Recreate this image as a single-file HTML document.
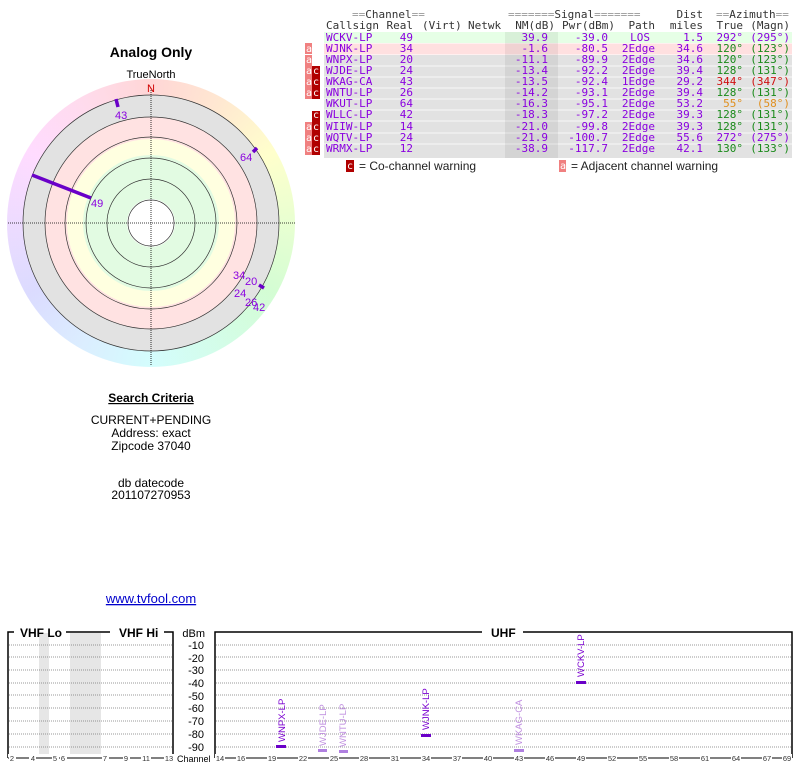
<!DOCTYPE html>
<html><head><meta charset="utf-8"><style>
body{margin:0;background:#fff;width:800px;height:768px;overflow:hidden;position:relative}
#ring{position:absolute;left:7px;top:79px;width:288px;height:288px;border-radius:50%;
background:conic-gradient(hsl(0,100%,92%),hsl(30,100%,91%),hsl(60,100%,90%),hsl(90,100%,91%),hsl(120,90%,91%),hsl(150,90%,91%),hsl(180,90%,91%),hsl(210,100%,93%),hsl(240,100%,93%),hsl(270,100%,93%),hsl(300,100%,93%),hsl(330,100%,93%),hsl(360,100%,92%))}
svg{position:absolute;left:0;top:0}
</style></head><body>
<div id="ring"></div>
<svg width="800" height="768" xmlns="http://www.w3.org/2000/svg" font-family="Liberation Sans, sans-serif">
<circle cx="151" cy="223" r="128" fill="#e2e2e2"/>
<circle cx="151" cy="223" r="106" fill="#ffe2e2"/>
<circle cx="151" cy="223" r="84" fill="#ffffe0"/>
<circle cx="151" cy="223" r="68" fill="#e2fbe2"/>
<circle cx="151" cy="223" r="24" fill="#fff"/>
<g fill="none" stroke="#333" stroke-width="0.7">
<circle cx="151" cy="223" r="128"/><circle cx="151" cy="223" r="106"/><circle cx="151" cy="223" r="86"/>
<circle cx="151" cy="223" r="65"/><circle cx="151" cy="223" r="44"/><circle cx="151" cy="223" r="23"/>
</g>
<g stroke="#000" stroke-width="0.8" stroke-dasharray="1,1">
<line x1="8" y1="223" x2="296" y2="223"/><line x1="151" y1="88" x2="151" y2="366"/>
</g>
<text x="151" y="78" font-size="11" text-anchor="middle">TrueNorth</text>
<text x="151" y="92" font-size="11" text-anchor="middle" fill="#d00000">N</text>
<g stroke="#6a00c8" stroke-width="3.5">
<line x1="32" y1="175" x2="91" y2="198"/>
<line x1="116" y1="99" x2="118" y2="107"/>
<line x1="253" y1="152" x2="257" y2="148"/>
<line x1="259" y1="285" x2="264" y2="288"/>
</g>
<g font-size="11" fill="#8a00e0">
<text x="91" y="207">49</text><text x="115" y="119">43</text><text x="240" y="161">64</text>
<text x="233" y="279">34</text><text x="245" y="285">20</text><text x="234" y="297">24</text>
<text x="245" y="306">26</text><text x="253" y="311">42</text>
</g>
<text x="151" y="57" font-size="14" font-weight="bold" text-anchor="middle">Analog Only</text>
<g font-size="12" text-anchor="middle">
<text x="151" y="402" font-weight="bold" text-decoration="underline">Search Criteria</text>
<text x="151" y="424">CURRENT+PENDING</text>
<text x="151" y="437">Address: exact</text>
<text x="151" y="450">Zipcode 37040</text>
<text x="151" y="487">db datecode</text>
<text x="151" y="499">201107270953</text>
<text x="151" y="603" fill="#0000cc" font-size="13" text-decoration="underline">www.tvfool.com</text>
</g>

<rect x="324" y="32" width="468" height="11" fill="#e6ffe6"/>
<rect x="324" y="43.5" width="468" height="11" fill="#ffe0e0"/>
<rect x="324" y="55" width="468" height="103" fill="#e2e2e2"/>
<g stroke="#fff" stroke-width="0.8">
<line x1="324" y1="66" x2="792" y2="66"/><line x1="324" y1="77" x2="792" y2="77"/><line x1="324" y1="88" x2="792" y2="88"/>
<line x1="324" y1="99" x2="792" y2="99"/><line x1="324" y1="110" x2="792" y2="110"/><line x1="324" y1="121" x2="792" y2="121"/>
<line x1="324" y1="133" x2="792" y2="133"/><line x1="324" y1="144" x2="792" y2="144"/>
</g>
<rect x="505" y="32" width="53" height="126" fill="#000" opacity="0.06"/>
<g font-family="DejaVu Sans Mono, monospace" font-size="11">
<g fill="#999"><text x="352" y="18">==<tspan fill="#333">Channel</tspan>==</text>
<text x="508" y="18">=======<tspan fill="#333">Signal</tspan>=======</text>
<text x="716" y="18">==<tspan fill="#333">Azimuth</tspan>==</text></g>
<g fill="#333"><text x="703" y="18" text-anchor="end">Dist</text>
<text x="326" y="29">Callsign</text><text x="413" y="29" text-anchor="end">Real</text><text x="422" y="29">(Virt)</text>
<text x="468" y="29">Netwk</text><text x="555" y="29" text-anchor="end">NM(dB)</text><text x="615" y="29" text-anchor="end">Pwr(dBm)</text>
<text x="655" y="29" text-anchor="end">Path</text><text x="703" y="29" text-anchor="end">miles</text>
<text x="743" y="29" text-anchor="end">True</text><text x="790" y="29" text-anchor="end">(Magn)</text></g>
<g fill="#8a00e0">
<text x="326" y="41">WCKV-LP</text><text x="326" y="52">WJNK-LP</text><text x="326" y="63">WNPX-LP</text><text x="326" y="74">WJDE-LP</text>
<text x="326" y="85">WKAG-CA</text><text x="326" y="96">WNTU-LP</text><text x="326" y="107">WKUT-LP</text><text x="326" y="118">WLLC-LP</text>
<text x="326" y="130">WIIW-LP</text><text x="326" y="141">WQTV-LP</text><text x="326" y="152">WRMX-LP</text>
<g text-anchor="end">
<text x="413" y="41">49</text><text x="413" y="52">34</text><text x="413" y="63">20</text><text x="413" y="74">24</text><text x="413" y="85">43</text><text x="413" y="96">26</text><text x="413" y="107">64</text><text x="413" y="118">42</text><text x="413" y="130">14</text><text x="413" y="141">24</text><text x="413" y="152">12</text>
<text x="548" y="41">39.9</text><text x="548" y="52">-1.6</text><text x="548" y="63">-11.1</text><text x="548" y="74">-13.4</text><text x="548" y="85">-13.5</text><text x="548" y="96">-14.2</text><text x="548" y="107">-16.3</text><text x="548" y="118">-18.3</text><text x="548" y="130">-21.0</text><text x="548" y="141">-21.9</text><text x="548" y="152">-38.9</text>
<text x="608" y="41">-39.0</text><text x="608" y="52">-80.5</text><text x="608" y="63">-89.9</text><text x="608" y="74">-92.2</text><text x="608" y="85">-92.4</text><text x="608" y="96">-93.1</text><text x="608" y="107">-95.1</text><text x="608" y="118">-97.2</text><text x="608" y="130">-99.8</text><text x="608" y="141">-100.7</text><text x="608" y="152">-117.7</text>
<text x="650" y="41">LOS</text><text x="655" y="52">2Edge</text><text x="655" y="63">2Edge</text><text x="655" y="74">2Edge</text><text x="655" y="85">1Edge</text><text x="655" y="96">2Edge</text><text x="655" y="107">2Edge</text><text x="655" y="118">2Edge</text><text x="655" y="130">2Edge</text><text x="655" y="141">2Edge</text><text x="655" y="152">2Edge</text>
<text x="703" y="41">1.5</text><text x="703" y="52">34.6</text><text x="703" y="63">34.6</text><text x="703" y="74">39.4</text><text x="703" y="85">29.2</text><text x="703" y="96">39.4</text><text x="703" y="107">53.2</text><text x="703" y="118">39.3</text><text x="703" y="130">39.3</text><text x="703" y="141">55.6</text><text x="703" y="152">42.1</text>
<text x="743" y="41">292°</text><text x="790" y="41">(295°)</text>
<g fill="#1a8a1a"><text x="743" y="52">120°</text><text x="790" y="52">(123°)</text><text x="743" y="63">120°</text><text x="790" y="63">(123°)</text>
<text x="743" y="74">128°</text><text x="790" y="74">(131°)</text><text x="743" y="96">128°</text><text x="790" y="96">(131°)</text>
<text x="743" y="118">128°</text><text x="790" y="118">(131°)</text><text x="743" y="130">128°</text><text x="790" y="130">(131°)</text>
<text x="743" y="152">130°</text><text x="790" y="152">(133°)</text></g>
<text x="743" y="85" fill="#d01010">344°</text><text x="790" y="85" fill="#d01010">(347°)</text>
<text x="743" y="107" fill="#e09020">55°</text><text x="790" y="107" fill="#e09020">(58°)</text>
<text x="743" y="141">272°</text><text x="790" y="141">(275°)</text>
</g></g>
</g>
<g fill="#f08080"><rect x="305" y="43" width="7" height="11"/><rect x="305" y="55" width="7" height="11"/><rect x="305" y="66" width="7" height="11"/><rect x="305" y="77" width="7" height="11"/><rect x="305" y="88" width="7" height="11"/><rect x="305" y="122" width="7" height="11"/><rect x="305" y="133" width="7" height="11"/><rect x="305" y="144" width="7" height="11"/><rect x="559" y="160" width="7" height="12"/></g>
<g fill="#b00000"><rect x="312" y="66" width="8" height="11"/><rect x="312" y="77" width="8" height="11"/><rect x="312" y="88" width="8" height="11"/><rect x="312" y="111" width="8" height="11"/><rect x="312" y="122" width="8" height="11"/><rect x="312" y="133" width="8" height="11"/><rect x="312" y="144" width="8" height="11"/><rect x="346" y="160" width="8" height="12"/></g>
<g fill="#fff" font-size="10" font-family="DejaVu Sans Mono, monospace">
<text x="306" y="52">a</text><text x="306" y="63">a</text><text x="306" y="74">a</text><text x="306" y="85">a</text><text x="306" y="96">a</text><text x="306" y="130">a</text><text x="306" y="141">a</text><text x="306" y="152">a</text><text x="560" y="169">a</text>
<text x="313" y="74">c</text><text x="313" y="85">c</text><text x="313" y="96">c</text><text x="313" y="118">c</text><text x="313" y="130">c</text><text x="313" y="141">c</text><text x="313" y="152">c</text><text x="347" y="169">c</text>
</g>
<text x="359" y="170" font-size="12" fill="#222">= Co-channel warning</text>
<text x="571" y="170" font-size="12" fill="#222">= Adjacent channel warning</text>

<rect x="39" y="633" width="10" height="125" fill="#e6e6e6"/>
<rect x="70" y="633" width="31" height="125" fill="#e6e6e6"/>
<g stroke="#777" stroke-width="0.8" stroke-dasharray="1,1">
<line x1="9" y1="645" x2="172" y2="645"/><line x1="9" y1="657" x2="172" y2="657"/><line x1="9" y1="670" x2="172" y2="670"/><line x1="9" y1="683" x2="172" y2="683"/><line x1="9" y1="695" x2="172" y2="695"/><line x1="9" y1="708" x2="172" y2="708"/><line x1="9" y1="721" x2="172" y2="721"/><line x1="9" y1="734" x2="172" y2="734"/><line x1="9" y1="747" x2="172" y2="747"/>
<line x1="216" y1="645" x2="791" y2="645"/><line x1="216" y1="657" x2="791" y2="657"/><line x1="216" y1="670" x2="791" y2="670"/><line x1="216" y1="683" x2="791" y2="683"/><line x1="216" y1="695" x2="791" y2="695"/><line x1="216" y1="708" x2="791" y2="708"/><line x1="216" y1="721" x2="791" y2="721"/><line x1="216" y1="734" x2="791" y2="734"/><line x1="216" y1="747" x2="791" y2="747"/>
</g>
<g fill="none" stroke="#000" stroke-width="1.5">
<path d="M8,758 V632 H14 M66,632 H110 M164,632 H173 V758"/>
<path d="M215,758 V632 H482 M523,632 H792 V758"/>
</g>
<g font-weight="bold" font-size="12"><text x="20" y="637">VHF Lo</text><text x="119" y="637">VHF Hi</text><text x="491" y="637">UHF</text></g>
<g font-size="11" text-anchor="end"><text x="205" y="637">dBm</text><text x="204" y="649">-10</text><text x="204" y="662">-20</text><text x="204" y="674">-30</text><text x="204" y="687">-40</text><text x="204" y="700">-50</text><text x="204" y="712">-60</text><text x="204" y="725">-70</text><text x="204" y="738">-80</text><text x="204" y="751">-90</text></g>
<text x="177" y="762" font-size="9">Channel</text>
<g font-size="7.5" fill="#333" text-anchor="middle">
<rect x="8" y="754" width="165" height="8" fill="#fff"/><rect x="215" y="754" width="577" height="8" fill="#fff"/>
<line x1="8" y1="758" x2="173" y2="758" stroke="#000"/><line x1="215" y1="758" x2="792" y2="758" stroke="#000"/>
<rect x="9" y="754" width="7" height="8" fill="#fff"/><text x="12" y="761">2</text>
<rect x="29" y="754" width="7" height="8" fill="#fff"/><text x="33" y="761">4</text>
<rect x="52" y="754" width="7" height="8" fill="#fff"/><text x="55" y="761">5</text>
<rect x="60" y="754" width="7" height="8" fill="#fff"/><text x="63" y="761">6</text>
<rect x="102" y="754" width="7" height="8" fill="#fff"/><text x="105" y="761">7</text>
<rect x="123" y="754" width="7" height="8" fill="#fff"/><text x="126" y="761">9</text>
<rect x="141" y="754" width="10" height="8" fill="#fff"/><text x="146" y="761">11</text>
<rect x="164" y="754" width="10" height="8" fill="#fff"/><text x="169" y="761">13</text>
<rect x="215" y="754" width="10" height="8" fill="#fff"/><text x="220" y="761">14</text>
<rect x="236" y="754" width="10" height="8" fill="#fff"/><text x="241" y="761">16</text>
<rect x="267" y="754" width="10" height="8" fill="#fff"/><text x="272" y="761">19</text>
<rect x="298" y="754" width="10" height="8" fill="#fff"/><text x="303" y="761">22</text>
<rect x="329" y="754" width="10" height="8" fill="#fff"/><text x="334" y="761">25</text>
<rect x="359" y="754" width="10" height="8" fill="#fff"/><text x="364" y="761">28</text>
<rect x="390" y="754" width="10" height="8" fill="#fff"/><text x="395" y="761">31</text>
<rect x="421" y="754" width="10" height="8" fill="#fff"/><text x="426" y="761">34</text>
<rect x="452" y="754" width="10" height="8" fill="#fff"/><text x="457" y="761">37</text>
<rect x="483" y="754" width="10" height="8" fill="#fff"/><text x="488" y="761">40</text>
<rect x="514" y="754" width="10" height="8" fill="#fff"/><text x="519" y="761">43</text>
<rect x="545" y="754" width="10" height="8" fill="#fff"/><text x="550" y="761">46</text>
<rect x="576" y="754" width="10" height="8" fill="#fff"/><text x="581" y="761">49</text>
<rect x="607" y="754" width="10" height="8" fill="#fff"/><text x="612" y="761">52</text>
<rect x="638" y="754" width="10" height="8" fill="#fff"/><text x="643" y="761">55</text>
<rect x="669" y="754" width="10" height="8" fill="#fff"/><text x="674" y="761">58</text>
<rect x="700" y="754" width="10" height="8" fill="#fff"/><text x="705" y="761">61</text>
<rect x="731" y="754" width="10" height="8" fill="#fff"/><text x="736" y="761">64</text>
<rect x="762" y="754" width="10" height="8" fill="#fff"/><text x="767" y="761">67</text>
<rect x="782" y="754" width="10" height="8" fill="#fff"/><text x="787" y="761">69</text>
</g>
<g fill="#6a00c8"><rect x="276" y="745" width="10" height="3"/><rect x="421" y="734" width="10" height="3"/><rect x="576" y="681" width="10" height="3"/></g>
<g fill="#b080e0"><rect x="318" y="749" width="9" height="3"/><rect x="339" y="750" width="9" height="3"/><rect x="514" y="749" width="10" height="3"/></g>
<g font-size="9.5">
<text transform="translate(285,742) rotate(-90)" fill="#7a00d0">WNPX-LP</text>
<text transform="translate(326,746) rotate(-90)" fill="#c090e0">WJDE-LP</text>
<text transform="translate(346,747) rotate(-90)" fill="#c090e0">WNTU-LP</text>
<text transform="translate(429,730) rotate(-90)" fill="#7a00d0">WJNK-LP</text>
<text transform="translate(522,745) rotate(-90)" fill="#c090e0">WKAG-CA</text>
<text transform="translate(584,677) rotate(-90)" fill="#7a00d0">WCKV-LP</text>
</g>
</svg>
</body></html>
